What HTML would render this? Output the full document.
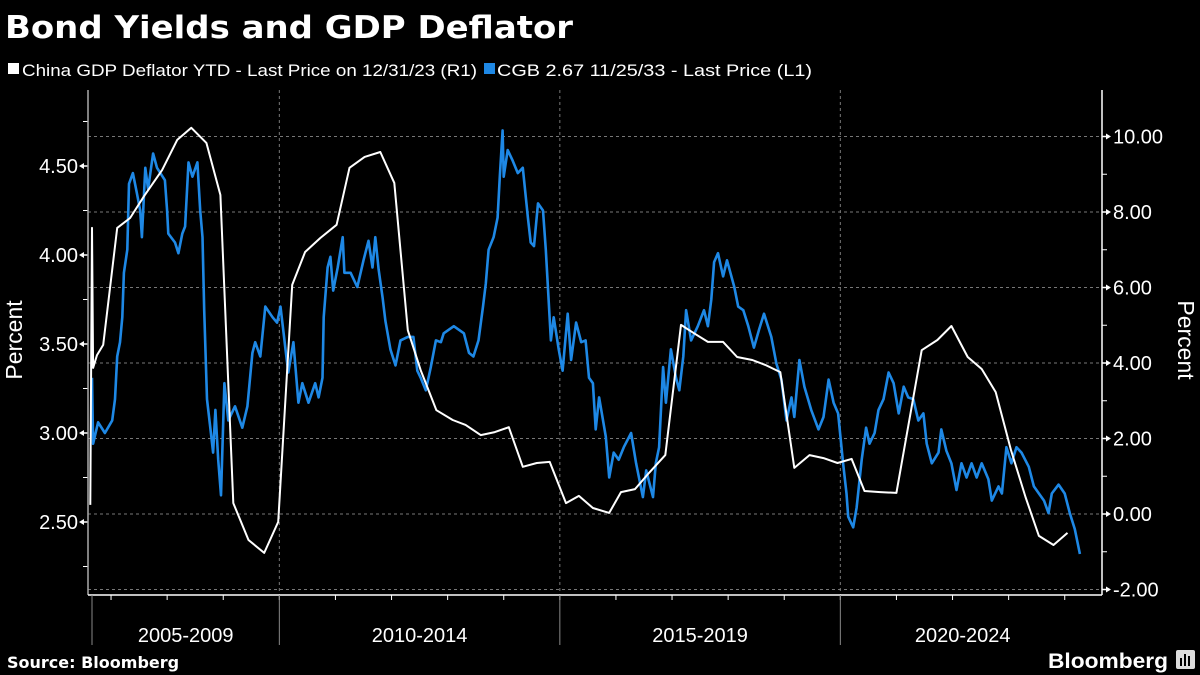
<!DOCTYPE html>
<html><head><meta charset="utf-8"><style>
html,body{margin:0;padding:0;background:#000;}
svg{display:block;}
text{font-family:"Liberation Sans","DejaVu Sans",sans-serif;fill:#fff;}
</style></head><body>
<svg id="chart" width="1200" height="675" viewBox="0 0 1200 675">
<text x="5" y="38" font-size="31" font-weight="bold" textLength="568" lengthAdjust="spacingAndGlyphs" style="font-family:'DejaVu Sans',sans-serif">Bond Yields and GDP Deflator</text>
<g>
<g><rect x="8" y="63" width="11" height="11" fill="#fff"/><text x="22" y="76" font-size="17" textLength="455" lengthAdjust="spacingAndGlyphs">China GDP Deflator YTD - Last Price on 12/31/23 (R1)</text></g>
<g><rect x="484" y="63" width="11" height="11" fill="#1e88e5"/><text x="497" y="76" font-size="17" textLength="315" lengthAdjust="spacingAndGlyphs">CGB 2.67 11/25/33 - Last Price (L1)</text></g>
</g>
<g id="grid"></g>
<g id="axes"></g>
<g id="series"></g>
<text transform="translate(22,340) rotate(-90)" text-anchor="middle" font-size="23">Percent</text>
<text transform="translate(1178,340) rotate(90)" text-anchor="middle" font-size="23">Percent</text>
<text x="7" y="668" font-size="16" font-weight="bold" style="font-family:'DejaVu Sans',sans-serif">Source: Bloomberg</text>
<text x="1048" y="668" font-size="21" font-weight="bold" textLength="120" lengthAdjust="spacingAndGlyphs">Bloomberg</text>
<g><rect x="1176" y="650" width="19" height="19" rx="2" fill="#ddd"/><rect x="1180" y="658" width="2" height="8" fill="#000"/><rect x="1184" y="654" width="2" height="12" fill="#000"/><rect x="1188" y="656" width="2" height="10" fill="#000"/></g>
</svg>
<script>
const leftTicks=[2.5,3.0,3.5,4.0,4.5];
const rightTicks=[-2,0,2,4,6,8,10];
const periodLabels=["2005-2009","2010-2014","2015-2019","2020-2024"];
const periodStarts=[2005,2010,2015,2020];
const deflDates=[2006.63,2006.66,2006.68,2006.75,2006.86,2007.11,2007.34,2007.59,2007.91,2008.18,2008.43,2008.70,2008.95,2009.18,2009.45,2009.73,2009.98,2010.23,2010.46,2010.73,2011.02,2011.25,2011.52,2011.80,2012.05,2012.29,2012.52,2012.80,2013.09,2013.32,2013.59,2013.84,2014.09,2014.34,2014.59,2014.82,2015.11,2015.34,2015.59,2015.88,2016.09,2016.34,2016.59,2016.88,2017.16,2017.39,2017.64,2017.91,2018.16,2018.43,2018.66,2018.93,2019.18,2019.45,2019.70,2019.95,2020.20,2020.43,2020.71,2021.00,2021.45,2021.73,2021.98,2022.27,2022.52,2022.77,2023.04,2023.30,2023.54,2023.80,2024.05];
const deflValues=[0.24,7.58,3.87,4.21,4.48,7.58,7.84,8.42,9.11,9.91,10.23,9.83,8.45,0.29,-0.69,-1.03,-0.21,6.07,6.94,7.31,7.66,9.17,9.46,9.59,8.77,4.87,3.81,2.75,2.49,2.36,2.09,2.17,2.30,1.25,1.35,1.38,0.29,0.48,0.16,0.03,0.58,0.66,1.09,1.56,5.01,4.79,4.56,4.56,4.16,4.08,3.95,3.76,1.22,1.56,1.48,1.35,1.46,0.61,0.58,0.56,4.34,4.61,4.98,4.16,3.84,3.23,1.70,0.45,-0.58,-0.82,-0.50];
const cgbDates=[2006.66,2006.68,2006.77,2006.89,2007.02,2007.07,2007.11,2007.16,2007.20,2007.23,2007.29,2007.32,2007.39,2007.46,2007.52,2007.55,2007.61,2007.66,2007.75,2007.82,2007.96,2008.00,2008.02,2008.14,2008.20,2008.27,2008.32,2008.38,2008.45,2008.54,2008.59,2008.63,2008.66,2008.71,2008.77,2008.82,2008.86,2008.91,2008.96,2009.02,2009.09,2009.21,2009.34,2009.43,2009.52,2009.57,2009.66,2009.75,2009.88,2009.96,2010.02,2010.11,2010.16,2010.25,2010.34,2010.41,2010.52,2010.64,2010.70,2010.77,2010.79,2010.86,2010.91,2010.96,2011.04,2011.13,2011.16,2011.27,2011.39,2011.50,2011.59,2011.66,2011.71,2011.77,2011.84,2011.89,2011.98,2012.07,2012.16,2012.29,2012.39,2012.46,2012.52,2012.61,2012.70,2012.79,2012.88,2012.93,2013.11,2013.29,2013.38,2013.46,2013.55,2013.63,2013.68,2013.73,2013.82,2013.89,2013.93,2013.98,2014.00,2014.07,2014.16,2014.25,2014.34,2014.43,2014.48,2014.54,2014.61,2014.70,2014.75,2014.80,2014.84,2014.89,2014.98,2015.05,2015.14,2015.20,2015.29,2015.38,2015.46,2015.52,2015.59,2015.64,2015.70,2015.82,2015.88,2015.96,2016.05,2016.14,2016.27,2016.36,2016.48,2016.54,2016.66,2016.71,2016.77,2016.84,2016.89,2016.98,2017.07,2017.13,2017.20,2017.25,2017.34,2017.46,2017.57,2017.64,2017.70,2017.75,2017.82,2017.91,2017.98,2018.11,2018.18,2018.27,2018.36,2018.46,2018.55,2018.64,2018.77,2018.86,2018.95,2019.04,2019.13,2019.18,2019.27,2019.36,2019.48,2019.61,2019.70,2019.79,2019.88,2019.96,2020.05,2020.11,2020.14,2020.23,2020.29,2020.38,2020.46,2020.52,2020.61,2020.68,2020.77,2020.86,2020.95,2021.04,2021.13,2021.21,2021.30,2021.39,2021.48,2021.54,2021.63,2021.75,2021.80,2021.89,2021.98,2022.07,2022.16,2022.25,2022.34,2022.43,2022.52,2022.64,2022.70,2022.82,2022.88,2022.96,2023.05,2023.14,2023.23,2023.36,2023.45,2023.54,2023.63,2023.71,2023.77,2023.89,2024.00,2024.09,2024.18,2024.27];
const cgbValues=[3.31,2.94,3.06,3.00,3.07,3.19,3.43,3.51,3.65,3.90,4.03,4.40,4.46,4.35,4.25,4.10,4.49,4.37,4.57,4.49,4.42,4.25,4.12,4.07,4.01,4.12,4.16,4.52,4.44,4.52,4.25,4.10,3.69,3.19,3.03,2.89,3.13,2.85,2.65,3.28,3.07,3.15,3.03,3.15,3.45,3.51,3.43,3.71,3.65,3.62,3.71,3.47,3.34,3.51,3.17,3.28,3.17,3.28,3.20,3.31,3.65,3.93,3.99,3.80,3.93,4.10,3.90,3.90,3.82,3.97,4.08,3.93,4.10,3.92,3.76,3.63,3.47,3.38,3.52,3.54,3.54,3.35,3.31,3.24,3.37,3.52,3.51,3.56,3.60,3.56,3.45,3.43,3.52,3.71,3.84,4.03,4.10,4.21,4.44,4.70,4.44,4.59,4.53,4.46,4.49,4.21,4.07,4.05,4.29,4.25,4.03,3.75,3.52,3.65,3.47,3.35,3.67,3.41,3.62,3.51,3.52,3.31,3.28,3.02,3.20,2.98,2.75,2.89,2.85,2.92,3.00,2.83,2.64,2.79,2.64,2.83,2.92,3.37,3.17,3.47,3.31,3.24,3.43,3.69,3.52,3.60,3.69,3.60,3.75,3.96,4.01,3.88,3.97,3.82,3.71,3.69,3.60,3.48,3.58,3.67,3.54,3.39,3.30,3.07,3.20,3.09,3.41,3.26,3.13,3.02,3.09,3.30,3.17,3.11,2.83,2.66,2.53,2.47,2.58,2.85,3.03,2.94,3.00,3.13,3.19,3.34,3.28,3.11,3.26,3.20,3.19,3.07,3.11,2.94,2.83,2.89,3.02,2.90,2.83,2.68,2.83,2.75,2.83,2.75,2.83,2.74,2.62,2.70,2.66,2.92,2.83,2.92,2.89,2.81,2.70,2.66,2.62,2.55,2.66,2.71,2.66,2.55,2.46,2.32];

const NS="http://www.w3.org/2000/svg";
const L=88,R=1102,T=90,B=595;
function xS(d){return 90+(d-2006.625)*56.1;}
function yL(v){return 166+(4.5-v)*178;}
function yR(v){return 514-v*37.75;}
function mk(tag,attrs,parent){const e=document.createElementNS(NS,tag);for(const k in attrs)e.setAttribute(k,attrs[k]);parent.appendChild(e);return e;}
const grid=document.getElementById('grid'),axes=document.getElementById('axes'),series=document.getElementById('series');
rightTicks.forEach(v=>{
  const g=mk('line',{x1:L,x2:R,y1:yR(v),y2:yR(v),stroke:'#777','stroke-width':1,'stroke-dasharray':'3,3'},grid);
  
  
  mk('line',{x1:R,x2:R+6,y1:yR(v),y2:yR(v),stroke:'#fff','stroke-width':1.5},axes);
  mk('path',{d:`M${R+4} ${yR(v)-3}L${R+9} ${yR(v)}L${R+4} ${yR(v)+3}Z`,fill:'#fff'},axes);
  const t=mk('text',{x:R+11,y:yR(v)+7,'font-size':20},axes);
  t.textContent=(v<0?'-':'')+Math.abs(v).toFixed(2);
  
  
  if(v<10){const m=yR(v+1);mk('line',{x1:R,x2:R+5,y1:m,y2:m,stroke:'#fff','stroke-width':1},axes);}
});
leftTicks.forEach(v=>{
  mk('line',{x1:L-6,x2:L,y1:yL(v),y2:yL(v),stroke:'#fff','stroke-width':1.5},axes);
  mk('path',{d:`M${L-4} ${yL(v)-3}L${L-9} ${yL(v)}L${L-4} ${yL(v)+3}Z`,fill:'#fff'},axes);
  const t=mk('text',{x:L-10,y:yL(v)+7,'font-size':20,'text-anchor':'end'},axes);
  t.textContent=v.toFixed(2);
  
  
  [v-0.25,v+0.25].forEach(m=>{const y=yL(m);if(y>T&&y<B)mk('line',{x1:L-5,x2:L,y1:y,y2:y,stroke:'#fff','stroke-width':1},axes);});
});
mk('line',{x1:L,x2:L,y1:T,y2:B,stroke:'#aaa','stroke-width':1.5},axes);
mk('line',{x1:R,x2:R,y1:T,y2:B,stroke:'#fff','stroke-width':1.5},axes);
mk('line',{x1:L,x2:R,y1:B,y2:B,stroke:'#fff','stroke-width':1.5},axes);
for(let yr=2007;yr<=2024;yr++){const x=xS(yr);mk('line',{x1:x,x2:x,y1:B,y2:B+5,stroke:'#fff','stroke-width':1},axes);}
mk('line',{x1:92,x2:92,y1:B,y2:645,stroke:'#888','stroke-width':1},axes);
periodStarts.forEach((s,i)=>{
  const x0=Math.max(xS(s),92),x1=Math.min(xS(s+5),1085);
  if(i>0){
    const v=mk('line',{x1:xS(s),x2:xS(s),y1:T,y2:B,stroke:'#777','stroke-width':1,'stroke-dasharray':'3,3'},grid);
    
    
    mk('line',{x1:xS(s),x2:xS(s),y1:B,y2:645,stroke:'#888','stroke-width':1},axes);
  }
  const t=mk('text',{x:(x0+x1)/2,y:642,'font-size':20,'text-anchor':'middle'},axes);
  t.textContent=periodLabels[i];
  
  
});
const bl=mk('polyline',{points:cgbDates.map((d,i)=>xS(d).toFixed(1)+','+yL(cgbValues[i]).toFixed(1)).join(' '),fill:'none',stroke:'#1e88e5','stroke-width':2.6,'stroke-linejoin':'round'},series);


const wl=mk('polyline',{points:deflDates.map((d,i)=>xS(d).toFixed(1)+','+yR(deflValues[i]).toFixed(1)).join(' '),fill:'none',stroke:'#fff','stroke-width':2,'stroke-linejoin':'round'},series);


</script>
</body></html>
